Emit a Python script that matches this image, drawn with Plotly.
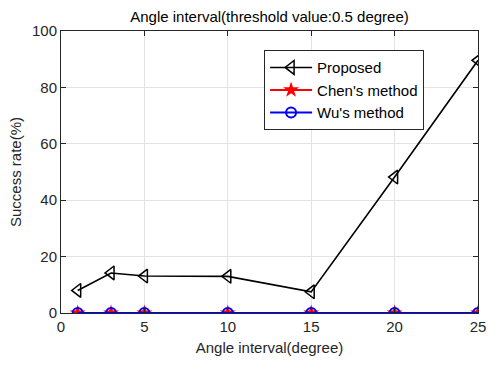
import plotly.graph_objects as go

angles = [1, 3, 5, 10, 15, 20, 25]
proposed = [8, 14.2, 13.1, 13, 7.5, 48.2, 89.6]
chen = [0, 0, 0, 0, 0, 0, 0]
wu = [0, 0, 0, 0, 0, 0, 0]

FONT = "Liberation Sans, Arial, sans-serif"
AX = "#262626"

fig = go.Figure()
fig.add_trace(go.Scatter(
    x=angles, y=proposed, name="Proposed", mode="lines+markers",
    line=dict(color="black", width=1.6),
    marker=dict(symbol="triangle-left-open", size=12, color="black", line=dict(width=1.5)),
))
fig.add_trace(go.Scatter(
    x=angles, y=chen, name="Chen's method", mode="lines+markers",
    line=dict(color="red", width=2),
    marker=dict(symbol="star", size=12, color="red", line=dict(width=0)),
))
fig.add_trace(go.Scatter(
    x=angles, y=wu, name="Wu's method", mode="lines+markers",
    line=dict(color="blue", width=2),
    marker=dict(symbol="circle-open", size=10, color="blue", line=dict(width=2)),
))

axis_common = dict(
    showline=True, linecolor=AX, linewidth=1, mirror="ticks",
    ticks="inside", ticklen=5, tickcolor=AX, tickwidth=1,
    showgrid=True, gridcolor="#e3e3e3", gridwidth=1, zeroline=False,
    tickfont=dict(family=FONT, size=15, color=AX), automargin=False,
)

fig.update_layout(
    width=488, height=365,
    margin=dict(l=61, r=10, t=31, b=52),
    paper_bgcolor="white", plot_bgcolor="white",
    font=dict(family=FONT, size=15, color=AX),
    title=dict(text="Angle interval(threshold value:0.5 degree)", x=0.5, xanchor="center",
               xref="paper", y=1 - 17 / 365, yanchor="middle",
               font=dict(family=FONT, size=15, color="black")),
    xaxis=dict(range=[0, 25], dtick=5, title=dict(text="Angle interval(degree)", standoff=8,
               font=dict(family=FONT, size=15, color=AX)), **axis_common),
    yaxis=dict(range=[0, 100], dtick=20, title=dict(text="Success rate(%)", standoff=6,
               font=dict(family=FONT, size=15, color=AX)), **axis_common),
    legend=dict(x=0.487, y=0.932, xanchor="left", yanchor="top",
                bordercolor=AX, borderwidth=1, bgcolor="white",
                font=dict(family=FONT, size=15, color="black"),
                tracegroupgap=0, itemwidth=42),
    showlegend=True,
)

fig.write_html("out.html")
